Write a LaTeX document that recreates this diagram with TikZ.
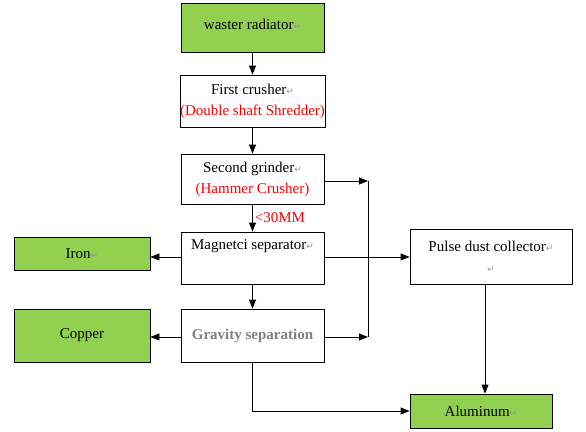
\documentclass[tikz,border=0pt]{standalone}
\usepackage{fontspec}
\setmainfont{Liberation Serif}
\newfontfamily\markfont{DejaVu Sans}
\usepackage{tikz}
\usetikzlibrary{positioning,arrows.meta}
\usepackage{xcolor}
\definecolor{leafgreen}{RGB}{146,208,80}
\definecolor{markgray}{RGB}{150,150,150}
\definecolor{textgray}{RGB}{128,128,128}
\newcommand{\pmark}{{\markfont\fontsize{9}{9}\selectfont\color{markgray}↵}}
\tikzstyle{stage}=[rectangle, draw=black, line width=0.9pt, fill=white, text centered,
align=center, font=\fontsize{15}{21}\selectfont, minimum width=143pt, minimum height=51pt, inner sep=0pt]
\tikzstyle{product}=[stage, fill=leafgreen]
\tikzstyle{flow}=[line width=0.9pt, -{Triangle[length=9pt,width=7pt]}]

\begin{document}
\begin{tikzpicture}[x=1pt,y=-1pt]
            \useasboundingbox (0,0) rectangle (586,431);
            \node (1)[product, minimum height=49pt] at (252.5,27.5)
                {\raisebox{6pt}{waster radiator\pmark}};
            \node (2)[stage, minimum height=52pt] at (252.5,101)
                {First crusher\pmark\\ \textcolor{red}{(Double shaft Shredder)}};
            \node (3)[stage, minimum height=50pt] at (252.5,179)
                {Second grinder\pmark\\ \textcolor{red}{(Hammer Crusher)}};
            \node (4)[stage, minimum height=52pt] at (252.5,258)
                {Magnetci separator\pmark\\ \strut};
            \node (5)[stage, minimum height=53pt] at (252.5,335.5)
                {\textcolor{textgray}{\bfseries Gravity separation}};
            \node (6)[product, minimum width=136pt, minimum height=33pt] at (82,253.5)
                {Iron\pmark};
            \node (7)[product, minimum width=136pt, minimum height=53pt] at (82,335.5)
                {Copper};
            \node (8)[stage, minimum width=162pt, minimum height=55pt] at (491,256.5)
                {Pulse dust collector\pmark\\ \pmark};
            \node (9)[product, minimum width=142pt, minimum height=34pt] at (481,411)
                {Aluminum\pmark};

            \coordinate (j1) at (368,181);
            \coordinate (j2) at (368,337);

            \draw[flow] (1) -- (2);
            \draw[flow] (2) -- (3);
            \draw[flow] (3) -- node[right, inner sep=2pt, text=red,
                font=\fontsize{15}{15}\selectfont] {<30MM} (4);
            \draw[flow] (3.east |- j1) -- (j1);
            \draw[line width=0.9pt] (j1) -- (j2);
            \draw[flow] (5.east |- j2) -- (j2);
            \draw[flow] (4.west |- 0,257) -- (6.east |- 0,257);
            \draw[flow] (4.east |- 0,257) -- (8.west |- 0,257);
            \draw[flow] (4) -- (5);
            \draw[flow] (5.west |- j2) -- (7.east |- j2);
            \draw[flow] (5.south) |- (9.west);
            \draw[flow] (8.south -| 485,0) -- (9.north -| 485,0);
        \end{tikzpicture}
\end{document}
